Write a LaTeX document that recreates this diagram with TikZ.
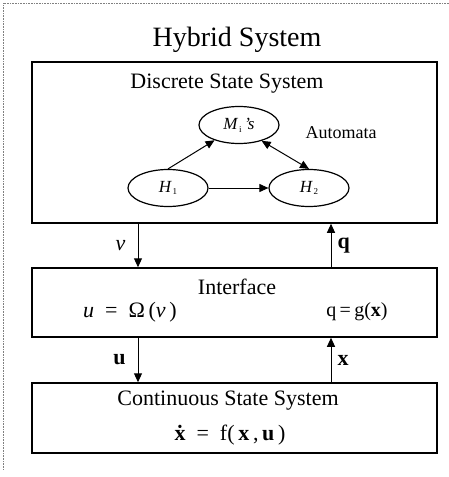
\documentclass[tikz,border=0pt]{standalone}
\usepackage{fontspec}
\setmainfont{Liberation Serif}
\usetikzlibrary{shapes.geometric,arrows.meta}
\newcommand{\lowsub}[1]{\raisebox{-0.35ex}{\fontsize{9}{9}\selectfont\upshape #1}}
\begin{document}
\begin{tikzpicture}[x=1pt,y=-1pt,
  box/.style={draw,line width=1.5pt,minimum width=405pt,inner sep=0pt},
  st/.style={draw,ellipse,line width=1.2pt,minimum width=80pt,minimum height=37pt,inner sep=0pt,font=\fontsize{17}{17}\selectfont\itshape},
  lbl/.style={font=\fontsize{22}{22}\selectfont,inner sep=0pt},
  arr/.style={line width=1pt,-{Triangle[length=9pt,width=8pt]}},
  darr/.style={line width=1pt,{Triangle[length=9pt,width=8pt]}-{Triangle[length=9pt,width=8pt]}},
  frame/.style={gray,line width=0.6pt,densely dotted},
]
\useasboundingbox (0,0) rectangle (449,477);
% outer dotted frame
\coordinate (c0) at (3,3);
\coordinate (c1) at (449,3);
\coordinate (c2) at (3,470);
\draw[frame] (c1) -- (c0) -- (c2);
% title
\node[font=\fontsize{28}{28}\selectfont,inner sep=0pt] (title) at (237,40) {Hybrid System};
% boxes
\node[box,minimum height=161pt] (D) at (234.5,142.5) {};
\node[box,minimum height=69pt] (I) at (234.5,302.5) {};
\node[box,minimum height=70pt] (C) at (234.5,418) {};
% box texts
\node[lbl] (Dt) at (227,84) {Discrete State System};
\node[lbl] (It) at (237,287) {Interface};
\node[lbl] (Ct) at (228,401) {Continuous State System};
\node[lbl] (ueq) at (130,312) {\textit{u}\enspace=\enspace Ω\,(\textit{ν}\,)};
\node[lbl,font=\fontsize{20}{20}\selectfont] (qeq) at (357,312) {q\,=\,g(\textbf{x})};
\node[lbl] (xeq) at (230,435) {\textbf{\.x}\enspace=\enspace f(\,\textbf{x}\,,\,\textbf{u}\,)};
% automaton
\node[st] (M) at (239,125) {M\lowsub{\,i}\,'s};
\node[st] (H1) at (168,188) {H\lowsub{\,1}};
\node[st] (H2) at (309,188) {H\lowsub{\,2}};
\node[font=\fontsize{18}{18}\selectfont,inner sep=0pt] (aut) at (341,133) {Automata};
\draw[arr] (H1.north) -- (M.212);
\draw[arr] (H1) -- (H2);
\draw[darr] (M.-35) -- (H2.north);
% connectors between boxes
\draw[arr] ([xshift=-96.5pt]D.south) -- ([xshift=-96.5pt]I.north) node[midway,left=12pt,lbl,font=\fontsize{22}{22}\selectfont\itshape] (nu) {ν};
\draw[arr] ([xshift=96.5pt]I.north) -- ([xshift=96.5pt]D.south) node[midway,right=6pt,lbl,font=\fontsize{22}{22}\selectfont\bfseries] (q) {q};
\draw[arr] ([xshift=-96.5pt]I.south) -- ([xshift=-96.5pt]C.north) node[midway,left=12pt,lbl,font=\fontsize{22}{22}\selectfont\bfseries] (u) {u};
\draw[arr] ([xshift=96.5pt]C.north) -- ([xshift=96.5pt]I.south) node[midway,right=6pt,lbl,font=\fontsize{22}{22}\selectfont\bfseries] (x) {x};
\end{tikzpicture}
\end{document}
